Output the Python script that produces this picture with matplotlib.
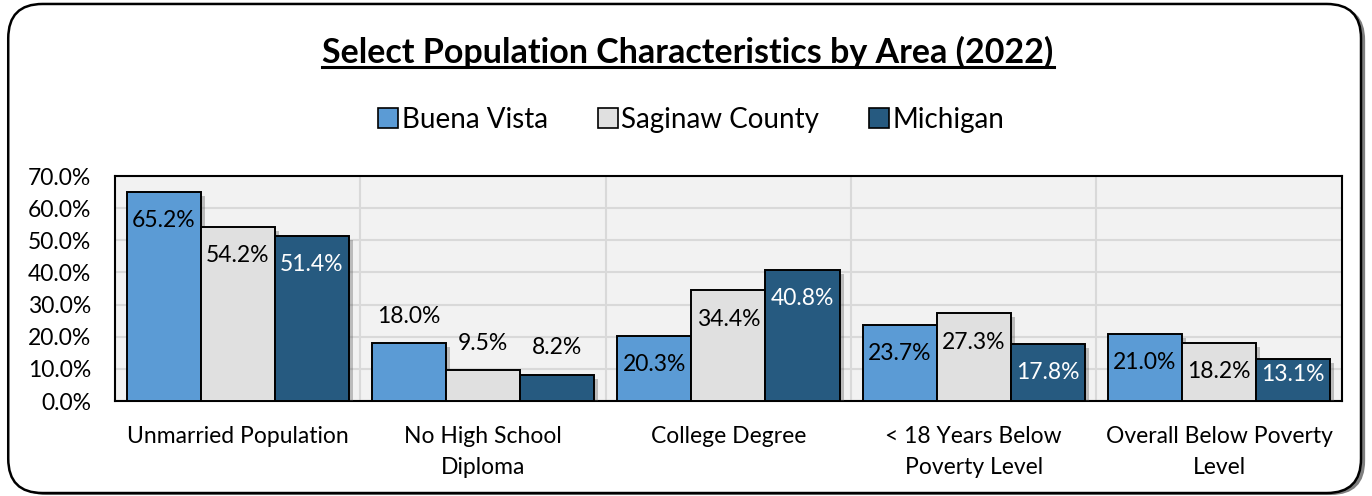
import matplotlib.pyplot as plt
import matplotlib.patheffects as pe
from matplotlib.patches import FancyBboxPatch
from matplotlib.lines import Line2D
import numpy as np

plt.rcParams['font.family'] = ['Lato', 'DejaVu Sans']

# Data
categories = ['Unmarried Population', 'No High School\nDiploma', 'College Degree',
              '< 18 Years Below\nPoverty Level', 'Overall Below Poverty\nLevel']
buena_vista = [65.2, 18.0, 20.3, 23.7, 21.0]
saginaw = [54.2, 9.5, 34.4, 27.3, 18.2]
michigan = [51.4, 8.2, 40.8, 17.8, 13.1]
series_names = ['Buena Vista', 'Saginaw County', 'Michigan']

colors = ['#5b9bd5', '#e0e0e0', '#265a80']
text_colors = ['black', 'black', 'white']
label_outside = [False, True, False, False, False]

fig = plt.figure(figsize=(13.72, 4.96), dpi=100)

# rounded outer frame with a small shadow
shadow = FancyBboxPatch((0.009, 0.002), 0.986, 0.986, boxstyle='round,pad=0,rounding_size=0.025',
                        transform=fig.transFigure, facecolor='#7f7f7f', edgecolor='none',
                        mutation_aspect=2.77, zorder=0)
frame = FancyBboxPatch((0.006, 0.006), 0.986, 0.986, boxstyle='round,pad=0,rounding_size=0.025',
                       transform=fig.transFigure, facecolor='white', edgecolor='black',
                       linewidth=1.8, mutation_aspect=2.77, zorder=1)
fig.patches.extend([shadow, frame])

ax = fig.add_axes([0.0838, 0.1915, 0.8942, 0.4535])
ax.set_facecolor('#f2f2f2')
ax.set_zorder(2)

x = np.arange(len(categories))
w = 0.302
all_series = [buena_vista, saginaw, michigan]
shadow_fx = [pe.SimplePatchShadow(offset=(3, -3), shadow_rgbFace='#555555', alpha=0.35), pe.Normal()]

for i, vals in enumerate(all_series):
    bars = ax.bar(x + (i - 1) * w, vals, w, color=colors[i], edgecolor='black',
                  linewidth=1.4, label=series_names[i], zorder=3)
    for b in bars:
        b.set_path_effects(shadow_fx)
    for j, v in enumerate(vals):
        if label_outside[j]:
            ax.text(x[j] + (i - 1) * w, v + 8.3, f'{v:.1f}%', ha='center', va='center',
                    fontsize=16.5, color='black', zorder=4)
        else:
            ax.text(x[j] + (i - 1) * w, max(v - 9.0, 8.1), f'{v:.1f}%', ha='center', va='center',
                    fontsize=16.5, color=text_colors[i], zorder=4)

ax.set_xlim(-0.5, len(categories) - 0.5)
ax.set_ylim(0, 70)
ax.set_yticks(np.arange(0, 71, 10))
ax.set_yticklabels([f'{t:.1f}%' for t in np.arange(0, 71, 10)], fontsize=16.5)
ax.set_xticks(x)
ax.set_xticklabels(categories, fontsize=16.5, linespacing=1.6)
ax.set_xticks(np.arange(0.5, len(categories) - 0.5, 1), minor=True)
ax.tick_params(axis='y', length=0, pad=17)
ax.tick_params(axis='x', which='both', length=0, pad=18)
ax.grid(axis='y', color='#d9d9d9', linewidth=1.5, zorder=0)
ax.grid(axis='x', which='minor', color='#d9d9d9', linewidth=1.5, zorder=0)
ax.set_axisbelow(True)
for s in ax.spines.values():
    s.set_linewidth(1.5)
    s.set_color('black')

# legend
handles = [Line2D([0], [0], marker='s', linestyle='none', markersize=14,
                  markerfacecolor=c, markeredgecolor='black', markeredgewidth=1.2)
           for c in colors]
fig.legend(handles, series_names, loc='center', bbox_to_anchor=(0.503, 0.758), ncol=3,
           frameon=False, fontsize=20, handletextpad=0.05, columnspacing=1.7, handlelength=0.9)

# title with underline
title = fig.text(0.5015, 0.894, 'Select Population Characteristics by Area (2022)',
                 ha='center', va='center', fontsize=24.5, fontweight='bold')
fig.canvas.draw()
bb = title.get_window_extent().transformed(fig.transFigure.inverted())
fig.add_artist(Line2D([bb.x0, bb.x1], [bb.y0 + 0.004, bb.y0 + 0.004], color='black',
                      linewidth=2.2, transform=fig.transFigure))

fig.savefig('out.png', dpi=100)
